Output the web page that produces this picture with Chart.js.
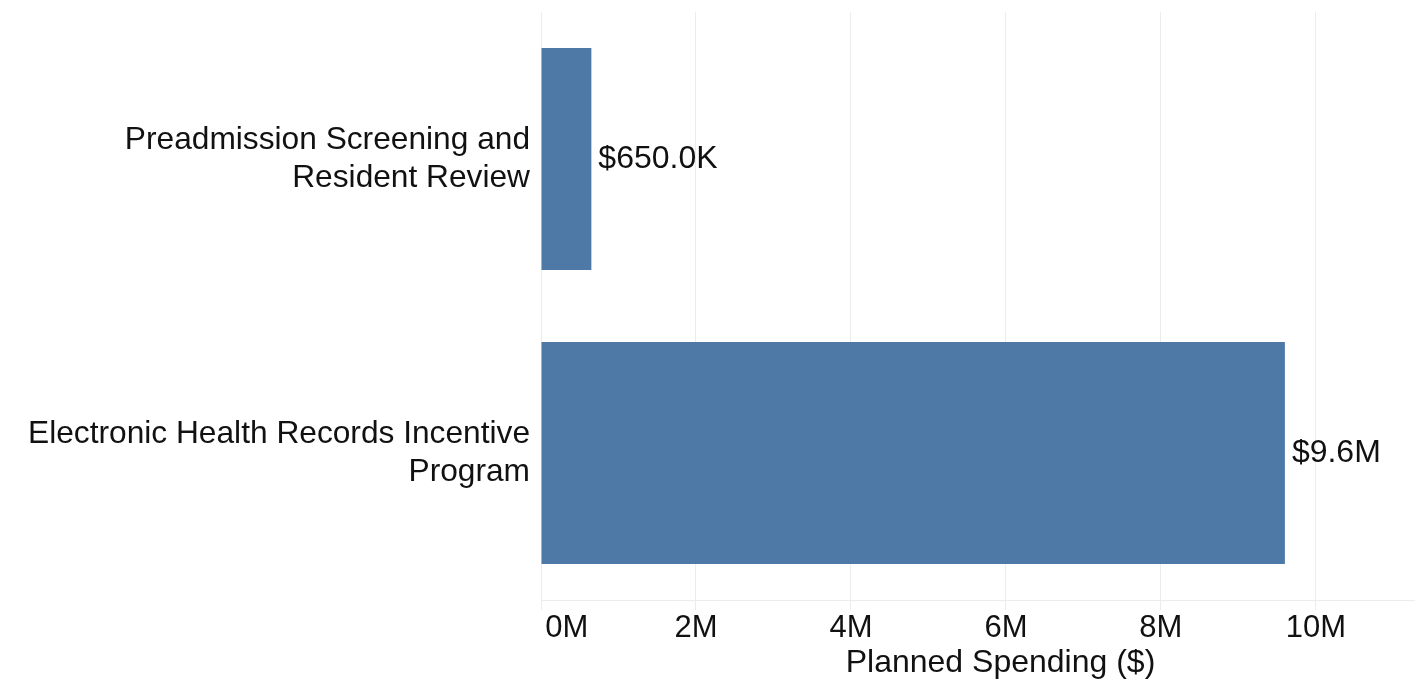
<!DOCTYPE html>
<html>
<head>
<meta charset="utf-8">
<title>Planned Spending</title>
<script src="https://cdn.jsdelivr.net/npm/chart.js@4"></script>
<style>
  html, body { margin:0; padding:0; background:#fff; overflow:hidden; }
  #wrap { position:relative; width:1460px; height:679px; }
</style>
</head>
<body>
<div id="wrap"><canvas id="spend"></canvas></div>
<script>
// programs and planned spending (millions of dollars)
const PROGRAMS = [
  ["Preadmission Screening and", "Resident Review"],
  ["Electronic Health Records Incentive", "Program"]
];
const SPENDING_M = [0.65, 9.6];
const X_TICK_STEP = 2;

const FONT = '"Liberation Sans", Arial, Helvetica, sans-serif';
const INK = "#111111";
const GRID = "#ececec";
const BAR = "#4e79a7";

function fmtMoney(m){
  if (m < 1) return "$" + (m*1000).toFixed(1) + "K";
  return "$" + m.toFixed(1) + "M";
}

// value text just past the end of each bar
const barValues = {
  id: "barValues",
  afterDatasetsDraw(chart){
    const ctx = chart.ctx;
    const meta = chart.getDatasetMeta(0);
    ctx.save();
    ctx.font = "32px " + FONT;
    ctx.fillStyle = INK;
    ctx.textAlign = "left";
    ctx.textBaseline = "middle";
    meta.data.forEach((el, i)=>{
      ctx.fillText(fmtMoney(SPENDING_M[i]), el.x + 7, el.y);
    });
    ctx.restore();
  }
};

new Chart(document.getElementById("spend"), {
  type: "bar",
  data: {
    labels: PROGRAMS,
    datasets: [{
      data: SPENDING_M,
      backgroundColor: BAR,
      borderWidth: 0,
      barPercentage: 0.755,
      categoryPercentage: 1
    }]
  },
  options: {
    indexAxis: "y",
    responsive: true,
    maintainAspectRatio: false,
    animation: false,
    layout: { padding: { top: 12, left: 0, right: 0, bottom: 0 } },
    plugins: { legend: { display: false }, tooltip: { enabled: false } },
    scales: {
      x: {
        min: 0,
        max: 11.86,
        border: { display: true, color: GRID, width: 1 },
        grid: { color: GRID, lineWidth: 1, tickLength: 10, tickColor: GRID },
        ticks: {
          stepSize: X_TICK_STEP,
          includeBounds: false,
          color: INK,
          padding: 3,
          font: { family: FONT, size: 31, lineHeight: 1 },
          // first label sits right of the zero line instead of centred on it
          callback: v => (v === 0 ? "      " : "") + v + "M"
        },
        title: {
          display: true,
          text: "Planned Spending ($)",
          color: INK,
          font: { family: FONT, size: 32, lineHeight: 1 },
          padding: { top: 0, bottom: 0 }
        }
      },
      y: {
        border: { display: false },
        grid: { display: false, drawTicks: false },
        ticks: {
          color: INK,
          padding: 11,
          font: { family: FONT, size: 31.7, lineHeight: 1.2 }
        },
        afterFit(scale){
          scale.width = 541;
          // labels are centred in their bands, so no edge overflow to reserve
          scale.paddingTop = 0;
          scale.paddingBottom = 0;
        }
      }
    }
  },
  plugins: [barValues]
});
</script>
</body>
</html>
